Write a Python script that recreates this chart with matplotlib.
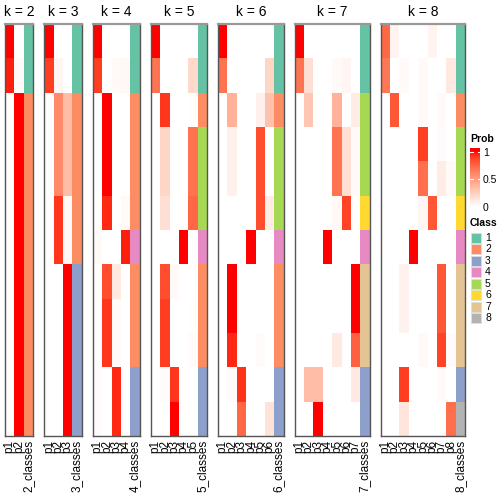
import numpy as np
import matplotlib
matplotlib.use("Agg")
import matplotlib.pyplot as plt
from matplotlib.colors import ListedColormap

plt.rcParams['font.family'] = ['Liberation Sans', 'DejaVu Sans']

# membership probabilities, 12 samples (rows) for each k
prob_k2 = [[1, 0], [0.97, 0.03]] + [[0, 1]] * 10
class_k2 = [1, 1, 2, 2, 2, 2, 2, 2, 2, 2, 2, 2]

prob_k3 = [[1, 0, 0], [0.9, 0.05, 0],
           [0, 0.6, 0.35], [0, 0.6, 0.35], [0, 0.6, 0.35],
           [0, 0.92, 0.04], [0, 0.92, 0.04]] + [[0, 0, 1]] * 5
class_k3 = [1, 1, 2, 2, 2, 2, 2, 3, 3, 3, 3, 3]

prob_k4 = [[1, 0, 0, 0], [0.9, 0, 0.03, 0.04],
           [0, 1, 0, 0], [0, 1, 0, 0], [0, 1, 0, 0],
           [0, 0.95, 0, 0.03], [0.03, 0, 0, 0.97],
           [0, 0.85, 0.12, 0], [0, 0.92, 0.03, 0], [0, 0.92, 0.03, 0],
           [0.02, 0, 0.95, 0], [0.02, 0, 0.95, 0]]
class_k4 = [1, 1, 2, 2, 2, 2, 4, 2, 2, 2, 3, 3]

prob_k5 = [[1, 0, 0, 0, 0], [0.7, 0, 0, 0, 0.2],
           [0, 0.92, 0, 0, 0.01], [0, 0.22, 0, 0, 0.7], [0, 0.22, 0, 0, 0.7],
           [0, 0.17, 0, 0, 0.75], [0, 0, 0, 1, 0],
           [0, 0.85, 0.03, 0, 0], [0, 0.9, 0, 0, 0.01], [0, 0.9, 0, 0, 0.02],
           [0, 0.02, 0.92, 0, 0], [0, 0, 1, 0, 0]]
class_k5 = [1, 1, 2, 5, 5, 5, 4, 2, 2, 2, 3, 3]

prob_k6 = [[1, 0, 0, 0, 0, 0], [0.7, 0, 0, 0, 0, 0.22],
           [0, 0.4, 0, 0, 0.08, 0.32], [0, 0.08, 0, 0, 0.85, 0],
           [0, 0.08, 0, 0, 0.85, 0], [0, 0, 0, 0, 0.85, 0.1],
           [0, 0, 0, 1, 0, 0], [0, 1, 0, 0, 0, 0], [0, 1, 0, 0, 0, 0],
           [0, 0.95, 0, 0, 0.02, 0], [0, 0.02, 0.93, 0, 0, 0],
           [0, 0, 0.75, 0, 0, 0.15]]
class_k6 = [1, 1, 2, 5, 5, 5, 4, 2, 2, 2, 3, 3]

prob_k7 = [[1, 0, 0, 0, 0, 0, 0], [0.7, 0.17, 0, 0, 0.03, 0.05, 0],
           [0, 0.3, 0, 0, 0.4, 0, 0.1], [0, 0, 0, 0, 0.7, 0.17, 0.03],
           [0, 0, 0, 0, 0.7, 0.17, 0.03], [0, 0, 0, 0, 0.04, 0.88, 0],
           [0, 0, 0, 1, 0, 0, 0], [0, 0, 0, 0, 0, 0, 1], [0, 0, 0, 0, 0, 0, 1],
           [0, 0, 0, 0, 0.12, 0, 0.78], [0, 0.35, 0.35, 0, 0, 0, 0.12],
           [0, 0, 1, 0, 0, 0, 0]]
class_k7 = [1, 1, 5, 5, 5, 6, 4, 7, 7, 7, 3, 3]

prob_k8 = [[0.75, 0.06, 0, 0, 0, 0.06, 0, 0],
           [0.68, 0, 0.03, 0, 0.03, 0, 0, 0.12],
           [0, 0.82, 0, 0, 0.03, 0, 0.03, 0],
           [0, 0, 0, 0, 0.9, 0, 0.02, 0],
           [0, 0, 0, 0, 0.72, 0, 0.1, 0.03],
           [0, 0, 0, 0, 0.05, 0.82, 0, 0],
           [0, 0, 0, 1, 0, 0, 0, 0],
           [0, 0, 0.07, 0, 0, 0, 0.82, 0],
           [0, 0, 0.07, 0, 0, 0, 0.82, 0],
           [0, 0, 0, 0, 0.03, 0, 0.88, 0.02],
           [0, 0, 0.9, 0, 0, 0, 0.03, 0],
           [0, 0, 0.14, 0, 0, 0, 0, 0.72]]
class_k8 = [1, 1, 2, 5, 5, 6, 4, 7, 7, 7, 3, 8]

class_colors = ['#66C2A5', '#FC8D62', '#8DA0CB', '#E78AC3',
                '#A6D854', '#FFD92F', '#E5C494', '#B3B3B3']
class_labels = ['1', '2', '3', '4', '5', '6', '7', '8']

all_k = [2, 3, 4, 5, 6, 7, 8]
all_prob = [prob_k2, prob_k3, prob_k4, prob_k5, prob_k6, prob_k7, prob_k8]
all_class = [class_k2, class_k3, class_k4, class_k5, class_k6, class_k7, class_k8]


# white -> red interpolated in LAB space (like colorRamp2)
def lab_to_rgb(L, a, b):
    fy = (L + 16) / 116
    fx = fy + a / 500
    fz = fy - b / 200
    def finv(t):
        return np.where(t > 6 / 29, t ** 3, 3 * (6 / 29) ** 2 * (t - 4 / 29))
    X = 0.95047 * finv(fx)
    Y = 1.0 * finv(fy)
    Z = 1.08883 * finv(fz)
    r = 3.2406 * X - 1.5372 * Y - 0.4986 * Z
    g = -0.9689 * X + 1.8758 * Y + 0.0415 * Z
    bb = 0.0557 * X - 0.2040 * Y + 1.0570 * Z
    rgb = np.stack([r, g, bb], axis=-1)
    rgb = np.where(rgb > 0.0031308, 1.055 * np.abs(rgb) ** (1 / 2.4) - 0.055, 12.92 * rgb)
    return np.clip(rgb, 0, 1)


t = np.linspace(0, 1, 256)
prob_cmap = ListedColormap(lab_to_rgb(100 - 46.76 * t, 80.09 * t, 67.20 * t))
class_cmap = ListedColormap(class_colors)

W = H = 504
fig = plt.figure(figsize=(5.04, 5.04), dpi=100)


def px_axes(x0, y0, w, h):
    return fig.add_axes([x0 / W, 1 - (y0 + h) / H, w / W, h / H])


cw = 9.35
gap = 11.2
top, bottom = 24, 436
x0 = 5
for k, prob, cls in zip(all_k, all_prob, all_class):
    prob = np.array(prob, dtype=float)
    cls = np.array(cls, dtype=float)
    n = len(cls)
    ax = px_axes(x0, top, (k + 1) * cw, bottom - top)
    ax.pcolormesh(np.arange(k + 1), np.arange(n + 1), prob,
                  cmap=prob_cmap, vmin=0, vmax=1)
    ax.pcolormesh([k, k + 1], np.arange(n + 1), cls[:, None],
                  cmap=class_cmap, vmin=0.5, vmax=8.5)
    ax.set_xlim(0, k + 1)
    ax.set_ylim(n, 0)
    ax.set_yticks([])
    ax.set_xticks(np.arange(k + 1) + 0.5)
    ax.set_xticklabels(['p%d' % (i + 1) for i in range(k)] + ['%d_classes' % k],
                       rotation=90, fontsize=8.5)
    ax.tick_params(axis='x', length=0, pad=3)
    for s in ax.spines.values():
        s.set_color('#555555')
        s.set_linewidth(1.0)
    ax.spines['top'].set_color('#999999')
    ax.spines['top'].set_linewidth(1.6)
    ax.set_title('k = %d' % k, fontsize=10, pad=6)
    x0 += (k + 1) * cw + gap

# probability legend
fig.text(470 / W, 1 - 139 / H, 'Prob', fontsize=7.5, fontweight='bold', va='center')
cax = px_axes(470, 148, 10, 59)
yy = np.linspace(0, 1.07, 108)
cax.pcolormesh([0, 1], yy, ((yy[:-1] + yy[1:]) / 2)[:, None],
               cmap=prob_cmap, vmin=0, vmax=1)
cax.set_xlim(0, 1)
cax.set_ylim(0, 1.07)
for v in [0.5, 1.0]:
    cax.axhline(v, xmin=0, xmax=0.25, color='white', lw=0.8)
    cax.axhline(v, xmin=0.75, xmax=1, color='white', lw=0.8)
cax.set_xticks([])
cax.set_yticks([0, 0.5, 1])
cax.set_yticklabels(['0', '0.5', '1'], fontsize=7.5)
cax.yaxis.tick_right()
cax.tick_params(axis='y', length=0, pad=2)
for s in cax.spines.values():
    s.set_visible(False)

# class legend
fig.text(470 / W, 1 - 223 / H, 'Class', fontsize=7.5, fontweight='bold', va='center')
lax = px_axes(468, 231, 36, 94)
lax.set_xlim(0, 36)
lax.set_ylim(94, 0)
lax.axis('off')
for i, (c, lab) in enumerate(zip(class_colors, class_labels)):
    y = 2 + i * 11.43
    lax.add_patch(plt.Rectangle((3, y), 10, 10, facecolor=c,
                                edgecolor='#DDDDDD', lw=0.6))
    lax.text(17, y + 5, lab, fontsize=7.5, va='center', ha='left')

fig.savefig('out.png', dpi=100)
